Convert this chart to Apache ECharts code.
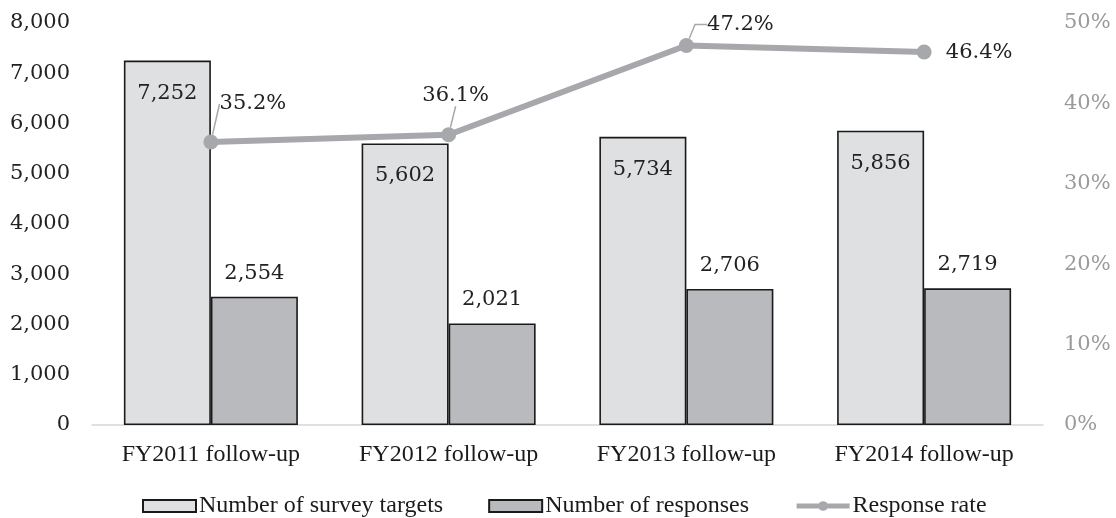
<!DOCTYPE html>
<html>
<head>
<meta charset="utf-8">
<script src="https://cdn.jsdelivr.net/npm/echarts@6/dist/echarts.min.js"></script>
<style>html,body{margin:0;padding:0;background:#fff}#c{width:1116px;height:518px}</style>
</head>
<body>
<div id="c"></div>
<script>
const categories = ['FY2011 follow-up', 'FY2012 follow-up', 'FY2013 follow-up', 'FY2014 follow-up'];
const targets = [7252, 5602, 5734, 5856];
const responses = [2554, 2021, 2706, 2719];
const rate = [35.2, 36.1, 47.2, 46.4];
const seriesNames = ['Number of survey targets', 'Number of responses', 'Response rate'];
const leftTicks = [0, 1000, 2000, 3000, 4000, 5000, 6000, 7000, 8000];
const rightTicks = [0, 10, 20, 30, 40, 50];

const numFont = 'DejaVu Serif';
const txtFont = 'Liberation Serif';
const fmtNum = v => v.toLocaleString('en-US');

// label placement for the rate labels (dx, dy, leader shown, leader elbow, left padding)
const rateLabelDx = [42, 7, 49, 55];
const rateLabelDy = [-38, -39, -21, 1];
const rateLeader = [true, true, true, false];
const rateLeaderElbow = [0, 0, 12, 0];
const ratePadLeft = [0, 0, 10, 0];

const rateData = rate.map((v, i) => ({
  value: v,
  label: {padding: [0, 0, 0, ratePadLeft[i]]},
  labelLine: {show: rateLeader[i], length2: rateLeaderElbow[i]}
}));

const chart = echarts.init(document.getElementById('c'), null, {renderer: 'canvas'});
chart.setOption({
  animation: false,
  grid: {left: 92, right: 73, top: 23, bottom: 93},
  legend: {
    top: 489, left: 137,
    itemGap: 45, itemWidth: 53, itemHeight: 12,
    textStyle: {fontFamily: txtFont, fontSize: 24, color: '#1a1a1a', lineHeight: 24, padding: [0,0,0,-2]},
    data: [
      {name: seriesNames[0], icon: 'rect'},
      {name: seriesNames[1], icon: 'rect'},
      {name: seriesNames[2], lineStyle: {width: 5, color: '#a7a8ab'}}
    ]
  },
  xAxis: {
    type: 'category', data: categories,
    axisLine: {lineStyle: {color: '#d6d6d6', width: 1.5}},
    axisTick: {show: false},
    axisLabel: {fontFamily: txtFont, fontSize: 24, color: '#1a1a1a', margin: 18}
  },
  yAxis: [
    {
      type: 'value', min: 0, max: 8000, interval: 1000,
      splitLine: {show: false}, axisLine: {show: false}, axisTick: {show: false},
      axisLabel: {fontFamily: numFont, fontSize: 21, color: '#222', margin: 22,
        formatter: v => leftTicks.includes(v) ? fmtNum(v) : ''}
    },
    {
      type: 'value', min: 0, max: 50, interval: 10,
      splitLine: {show: false}, axisLine: {show: false}, axisTick: {show: false},
      axisLabel: {fontFamily: numFont, fontSize: 21, color: '#9a9a9a', margin: 21,
        formatter: v => rightTicks.includes(v) ? v + '%' : ''}
    }
  ],
  series: [
    {
      name: seriesNames[0], type: 'bar', data: targets, barWidth: 87, barGap: '0%',
      itemStyle: {color: '#dfe0e2', borderColor: '#1a1a1a', borderWidth: 1.6},
      label: {show: true, position: 'insideTop', distance: 22, fontFamily: numFont, fontSize: 21, color: '#222',
        formatter: p => fmtNum(p.value)}
    },
    {
      name: seriesNames[1], type: 'bar', data: responses, barWidth: 87, barGap: '0%',
      itemStyle: {color: '#b9babd', borderColor: '#1a1a1a', borderWidth: 1.6},
      label: {show: true, position: 'top', distance: 13, fontFamily: numFont, fontSize: 21, color: '#222',
        formatter: p => fmtNum(p.value)}
    },
    {
      name: seriesNames[2], type: 'line', yAxisIndex: 1, data: rateData,
      symbol: 'circle', symbolSize: 15,
      lineStyle: {color: '#a7a8ab', width: 6},
      itemStyle: {color: '#a7a8ab'},
      z: 5,
      label: {show: true, position: 'inside', fontFamily: numFont, fontSize: 21, color: '#222',
        formatter: p => p.value.toFixed(1) + '%'},
      labelLine: {show: true, length2: 0, lineStyle: {color: '#a7a8ab', width: 1.5}},
      labelLayout: p => ({dx: rateLabelDx[p.dataIndex], dy: rateLabelDy[p.dataIndex]})
    }
  ]
});
</script>
</body>
</html>
